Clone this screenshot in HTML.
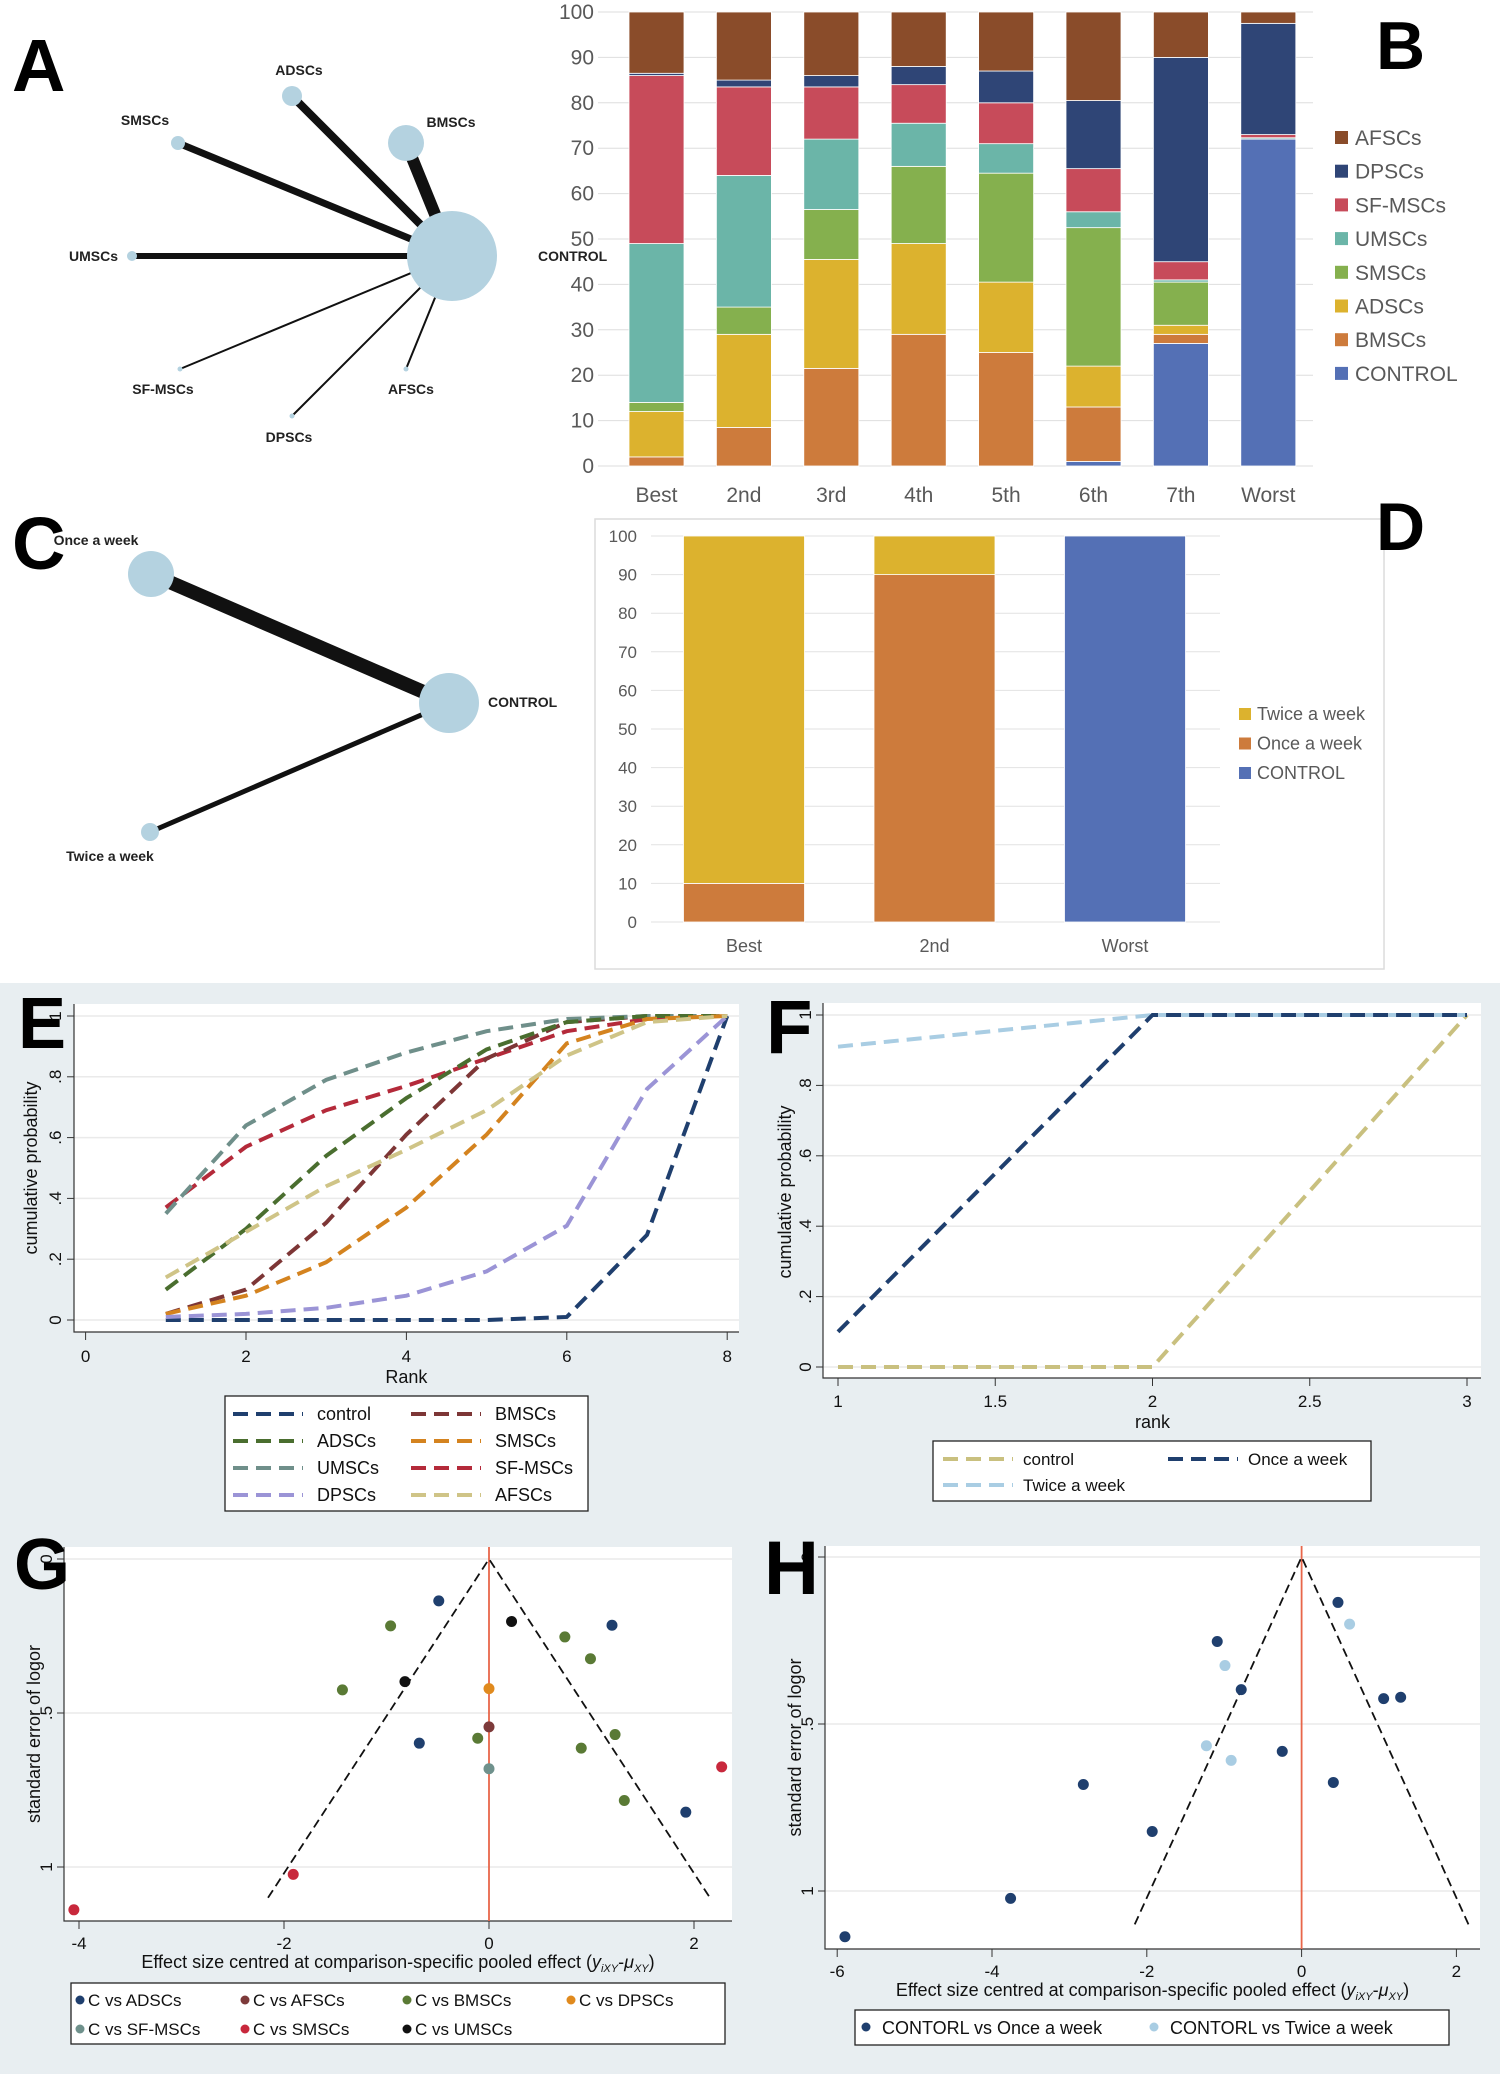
<!DOCTYPE html>
<html><head><meta charset="utf-8"><style>
html,body{margin:0;padding:0;background:#fff;}
svg{display:block;font-family:"Liberation Sans",Arial,sans-serif;}
.net{font-family:"Liberation Sans Narrow","Liberation Sans",sans-serif;font-weight:bold;font-size:14px;fill:#222;}
.big{font-family:"Liberation Sans",sans-serif;font-weight:bold;fill:#000;}
</style></head><body>
<svg id="fig" width="1500" height="2074" viewBox="0 0 1500 2074" xmlns="http://www.w3.org/2000/svg">
<rect x="0" y="0" width="1500" height="2074" fill="#fff"/>
<rect x="0" y="983" width="1500" height="1091" fill="#e8eef1"/>
<g id="gA"></g>
<g id="gB"></g>
<g id="gC"></g>
<g id="gD"></g>
<g id="gE"></g>
<g id="gF"></g>
<g id="gG"></g>
<g id="gH"></g>
<text class="big" x="12" y="91" font-size="74">A</text>
<text class="big" x="1376" y="69" font-size="68">B</text>
<text class="big" x="12" y="569" font-size="74">C</text>
<text class="big" x="1376" y="550" font-size="68">D</text>
<text class="big" x="18" y="1048" font-size="72">E</text>
<text class="big" x="766" y="1053" font-size="76">F</text>
<text class="big" x="14" y="1589" font-size="72">G</text>
<text class="big" x="764" y="1594" font-size="76">H</text>
</svg>
<script>
const NS='http://www.w3.org/2000/svg';
function mk(tag,attrs,parent,txt){const e=document.createElementNS(NS,tag);for(const k in attrs)e.setAttribute(k,attrs[k]);if(txt!==undefined)e.textContent=txt;parent.appendChild(e);return e;}

/* ---------- Panel A network ---------- */
const aNodes=['CONTROL','ADSCs','BMSCs','SMSCs','UMSCs','SF-MSCs','DPSCs','AFSCs'];
const aNodeSize=[45,10,18,7,5,2.5,2.5,2.5];
const aEdgeWidth=[0,8,12,7,6,2,2,2];
const aPos=[[452,256],[292,96],[406,143],[178,143],[132,256],[180,369],[292,416],[406,369]];
const aLab=[[538,261,'start'],[299,75,'middle'],[451,127,'middle'],[145,125,'middle'],[118,261,'end'],[163,394,'middle'],[289,442,'middle'],[411,394,'middle']];
const gA=document.getElementById('gA');
for(let i=1;i<aNodes.length;i++){
  const l=mk('line',{x1:aPos[i][0],y1:aPos[i][1],x2:aPos[0][0],y2:aPos[0][1],stroke:'#111','stroke-width':aEdgeWidth[i]},gA);
  
  
}
for(let i=0;i<aNodes.length;i++){
  const c=mk('circle',{cx:aPos[i][0],cy:aPos[i][1],r:aNodeSize[i],fill:'#b4d2e0'},gA);
  
  
  const t=mk('text',{x:aLab[i][0],y:aLab[i][1],'text-anchor':aLab[i][2],class:'net'},gA,aNodes[i]);
  
  
}

/* ---------- Panel C network ---------- */
const cNodes=['CONTROL','Once a week','Twice a week'];
const cNodeSize=[30,23,9];
const cEdgeWidth=[0,14,5];
const cPos=[[449,703],[151,574],[150,832]];
const cLab=[[488,707,'start'],[96,545,'middle'],[110,861,'middle']];
const gC=document.getElementById('gC');
for(let i=1;i<cNodes.length;i++){
  const l=mk('line',{x1:cPos[i][0],y1:cPos[i][1],x2:cPos[0][0],y2:cPos[0][1],stroke:'#111','stroke-width':cEdgeWidth[i]},gC);
  
  
}
for(let i=0;i<cNodes.length;i++){
  const c=mk('circle',{cx:cPos[i][0],cy:cPos[i][1],r:cNodeSize[i],fill:'#b4d2e0'},gC);
  
  
  const t=mk('text',{x:cLab[i][0],y:cLab[i][1],'text-anchor':cLab[i][2],class:'net','font-size':13},gC,cNodes[i]);
  
  
}

/* ---------- Panel B stacked bars ---------- */
const bCats=['Best','2nd','3rd','4th','5th','6th','7th','Worst'];
const bSeries=['CONTROL','BMSCs','ADSCs','SMSCs','UMSCs','SF-MSCs','DPSCs','AFSCs'];
const bColors=['#5470b5','#cd7b3c','#dcb22e','#85b04e','#6bb5a8','#c74b5a','#2f4576','#8a4c2a'];
const bControl=[0,0,0,0,0,1,27,72];
const bBMSCs=[2,8.5,21.5,29,25,12,2,0];
const bADSCs=[10,20.5,24,20,15.5,9,2,0];
const bSMSCs=[2,6,11,17,24,30.5,9.5,0];
const bUMSCs=[35,29,15.5,9.5,6.5,3.5,0.5,0.3];
const bSF=[37,19.5,11.5,8.5,9,9.5,4,0.7];
const bDPSCs=[0.5,1.5,2.5,4,7,15,45,24.5];
const bAFSCs=[13.5,15,14,12,13,19.5,10,2.5];
const bTicks=[0,10,20,30,40,50,60,70,80,90,100];
const bVals=[bControl,bBMSCs,bADSCs,bSMSCs,bUMSCs,bSF,bDPSCs,bAFSCs];
const gB=document.getElementById('gB');
const yB=v=>466-v*4.54, xB=i=>656.5+i*87.4;
bTicks.forEach(t=>{
  const g=mk('line',{x1:598,x2:1313,y1:yB(t),y2:yB(t),stroke:'#dedede','stroke-width':1},gB);
  
  
  const tx=mk('text',{x:594,y:yB(t)+7,'text-anchor':'end','font-size':21,fill:'#595959'},gB,t);
  
  
});
bCats.forEach((c,i)=>{
  let acc=0;
  bVals.forEach((s,k)=>{
    const v=s[i]; if(v<=0){return;}
    const r=mk('rect',{x:xB(i)-27.5,y:yB(acc+v),width:55,height:v*4.54,fill:bColors[k],stroke:'#fff','stroke-width':0.8},gB);
    
    
    acc+=v;
  });
  const t=mk('text',{x:xB(i),y:502,'text-anchor':'middle','font-size':21,fill:'#595959'},gB,c);
  
  
});
for(let k=7;k>=0;k--){
  const yy=138+(7-k)*33.7;
  const s=mk('rect',{x:1335,y:yy-7,width:13,height:13,fill:bColors[k]},gB);
  
  
  const t=mk('text',{x:1355,y:yy+7,'font-size':21,fill:'#595959'},gB,bSeries[k]);
  
  
}

/* ---------- Panel D stacked bars ---------- */
const dCats=['Best','2nd','Worst'];
const dSeries=['CONTROL','Once a week','Twice a week'];
const dColors=['#5470b5','#cd7b3c','#dcb22e'];
const dControl=[0,0,100];
const dOnce=[10,90,0];
const dTwice=[90,10,0];
const dTicks=[0,10,20,30,40,50,60,70,80,90,100];
const dVals=[dControl,dOnce,dTwice];
const gD=document.getElementById('gD');
const yD=v=>922-v*3.86, xD=i=>744+i*190.5;
const box=mk('rect',{x:595,y:519,width:789,height:450,fill:'none',stroke:'#dcdcdc','stroke-width':1.5},gD);


dTicks.forEach(t=>{
  const g=mk('line',{x1:651,x2:1220,y1:yD(t),y2:yD(t),stroke:'#e2e2e2','stroke-width':1},gD);
  
  
  const tx=mk('text',{x:637,y:yD(t)+6,'text-anchor':'end','font-size':17,fill:'#595959'},gD,t);
  
  
});
dCats.forEach((c,i)=>{
  let acc=0;
  dVals.forEach((s,k)=>{
    const v=s[i]; if(v<=0){return;}
    const r=mk('rect',{x:xD(i)-60.5,y:yD(acc+v),width:121,height:v*3.86,fill:dColors[k],stroke:'#fff','stroke-width':0.8},gD);
    
    
    acc+=v;
  });
  const t=mk('text',{x:xD(i),y:952,'text-anchor':'middle','font-size':18,fill:'#595959'},gD,c);
  
  
});
for(let k=2;k>=0;k--){
  const yy=714+(2-k)*29.5;
  const s=mk('rect',{x:1239,y:yy-6,width:12,height:12,fill:dColors[k]},gD);
  
  
  const t=mk('text',{x:1257,y:yy+6,'font-size':18,fill:'#595959'},gD,dSeries[k]);
  
  
}

/* ---------- Panel E cumulative ranking ---------- */
const eRanks=[1,2,3,4,5,6,7,8];
const eNames=['control','ADSCs','UMSCs','DPSCs','BMSCs','SMSCs','SF-MSCs','AFSCs'];
const eColors=['#1f3f6e','#4a6e2f','#6f8f8a','#9b94d6','#7d3636','#d4831f','#b42a3a','#cfc487'];
const eControl=[0,0,0,0,0,0.01,0.28,1];
const eADSCs=[0.10,0.30,0.54,0.73,0.89,0.98,1,1];
const eUMSCs=[0.35,0.64,0.79,0.88,0.95,0.99,1,1];
const eDPSCs=[0.01,0.02,0.04,0.08,0.16,0.31,0.76,1];
const eBMSCs=[0.02,0.10,0.32,0.61,0.86,0.98,1,1];
const eSMSCs=[0.02,0.08,0.19,0.37,0.61,0.91,0.99,1];
const eSF=[0.37,0.57,0.69,0.77,0.86,0.95,0.99,1];
const eAFSCs=[0.14,0.29,0.44,0.56,0.69,0.87,0.98,1];
const eXTicks=[0,2,4,6,8];
const eYTicks=[0,0.2,0.4,0.6,0.8,1];
const eYLabels=['0','.2','.4','.6','.8','1'];
const eSeries=[eControl,eADSCs,eUMSCs,eDPSCs,eBMSCs,eSMSCs,eSF,eAFSCs];
const gE=document.getElementById('gE');
const xE=r=>85.6+r*80.2, yE=p=>1320-p*304;
function stataFrame(g,x0,y0,x1,y1){
  const pr=mk('rect',{x:x0,y:y0,width:x1-x0,height:y1-y0,fill:'#fff'},g);
  
  
}
stataFrame(gE,74,1004,739,1332);
eYTicks.forEach((t,i)=>{
  const g=mk('line',{x1:74,x2:739,y1:yE(t),y2:yE(t),stroke:'#eaeaea','stroke-width':1.5},gE);
  
  
  const tk=mk('line',{x1:67,x2:74,y1:yE(t),y2:yE(t),stroke:'#333'},gE);
  
  
  const tx=mk('text',{x:0,y:0,'text-anchor':'middle','font-size':17,fill:'#111',transform:`translate(61,${yE(t)}) rotate(-90)`},gE,eYLabels[i]);
  
  
});
eXTicks.forEach(t=>{
  const tk=mk('line',{x1:xE(t),x2:xE(t),y1:1332,y2:1340,stroke:'#333'},gE);
  
  
  const tx=mk('text',{x:xE(t),y:1362,'text-anchor':'middle','font-size':17,fill:'#111'},gE,t);
  
  
});
let ax=mk('path',{d:'M74 1004 V1332 H739',fill:'none',stroke:'#333','stroke-width':1.2},gE);


let tt=mk('text',{x:xE(4),y:1383,'text-anchor':'middle','font-size':18,fill:'#111'},gE,'Rank');


tt=mk('text',{x:0,y:0,'text-anchor':'middle','font-size':18,fill:'#111',transform:'translate(37,1168) rotate(-90)'},gE,'cumulative probability');


[6,4,2,1,0,5,3,7].forEach(k=>{
  const pts=eRanks.map((r,i)=>xE(r)+','+yE(eSeries[k][i])).join(' ');
  const p=mk('polyline',{points:pts,fill:'none',stroke:eColors[k],'stroke-width':4,'stroke-dasharray':'15 8'},gE);
  
  
});
let lb=mk('rect',{x:225,y:1396,width:363,height:115,fill:'#fff',stroke:'#222','stroke-width':1.3},gE);


const eLegOrder=[0,4,1,5,2,6,3,7];
eLegOrder.forEach((k,j)=>{
  const col=j%2,row=Math.floor(j/2);
  const lx=col?411:233, yy=1414+row*27;
  const l=mk('line',{x1:lx,x2:lx+70,y1:yy,y2:yy,stroke:eColors[k],'stroke-width':4,'stroke-dasharray':'15 8'},gE);
  
  
  const t=mk('text',{x:lx+84,y:yy+6,'font-size':18,fill:'#111'},gE,eNames[k]);
  
  
});

/* ---------- Panel F ---------- */
const fRanks=[1,2,3];
const fNames=['control','Once a week','Twice a week'];
const fColors=['#c9c07f','#1f3f6e','#a9cde3'];
const fControl=[0,0,1];
const fOnce=[0.1,1,1];
const fTwice=[0.91,1,1];
const fXTicks=[1,1.5,2,2.5,3];
const fYTicks=[0,0.2,0.4,0.6,0.8,1];
const fYLabels=['0','.2','.4','.6','.8','1'];
const fSeries=[fControl,fOnce,fTwice];
const gF=document.getElementById('gF');
const xF=r=>838+(r-1)*314.5, yF=p=>1367-p*352;
stataFrame(gF,823,1003,1481,1378);
fYTicks.forEach((t,i)=>{
  const g=mk('line',{x1:823,x2:1481,y1:yF(t),y2:yF(t),stroke:'#eaeaea','stroke-width':1.5},gF);
  
  
  const tk=mk('line',{x1:816,x2:823,y1:yF(t),y2:yF(t),stroke:'#333'},gF);
  
  
  const tx=mk('text',{x:0,y:0,'text-anchor':'middle','font-size':17,fill:'#111',transform:`translate(811,${yF(t)}) rotate(-90)`},gF,fYLabels[i]);
  
  
});
fXTicks.forEach(t=>{
  const tk=mk('line',{x1:xF(t),x2:xF(t),y1:1378,y2:1386,stroke:'#333'},gF);
  
  
  const tx=mk('text',{x:xF(t),y:1407,'text-anchor':'middle','font-size':17,fill:'#111'},gF,t);
  
  
});
ax=mk('path',{d:'M823 1003 V1378 H1481',fill:'none',stroke:'#333','stroke-width':1.2},gF);


tt=mk('text',{x:xF(2),y:1428,'text-anchor':'middle','font-size':18,fill:'#111'},gF,'rank');


tt=mk('text',{x:0,y:0,'text-anchor':'middle','font-size':18,fill:'#111',transform:'translate(791,1192) rotate(-90)'},gF,'cumulative probability');


[0,2,1].forEach(k=>{
  const pts=fRanks.map((r,i)=>xF(r)+','+yF(fSeries[k][i])).join(' ');
  const p=mk('polyline',{points:pts,fill:'none',stroke:fColors[k],'stroke-width':4,'stroke-dasharray':'15 8'},gF);
  
  
});
lb=mk('rect',{x:933,y:1441,width:438,height:60,fill:'#fff',stroke:'#222','stroke-width':1.3},gF);


[[0,943,1459],[1,1168,1459],[2,943,1485]].forEach(([k,lx,yy])=>{
  const l=mk('line',{x1:lx,x2:lx+70,y1:yy,y2:yy,stroke:fColors[k],'stroke-width':4,'stroke-dasharray':'15 8'},gF);
  
  
  const t=mk('text',{x:lx+80,y:yy+6,'font-size':17,fill:'#111'},gF,fNames[k]);
  
  
});

/* ---------- Funnel helper ---------- */
function funnel(g,xs,ys,x0,y0,x1,y1,xticks,xlabels,yticks,ylabels,seMax){
  stataFrame(g,x0,y0,x1,y1);
  yticks.forEach((t,i)=>{
    const gl=mk('line',{x1:x0,x2:x1,y1:ys(t),y2:ys(t),stroke:'#eaeaea','stroke-width':1.5},g);
    
    
    const tk=mk('line',{x1:x0-7,x2:x0,y1:ys(t),y2:ys(t),stroke:'#333'},g);
    
    
    const tx=mk('text',{x:0,y:0,'text-anchor':'middle','font-size':17,fill:'#111',transform:`translate(${x0-12},${ys(t)}) rotate(-90)`},g,ylabels[i]);
    
    
  });
  xticks.forEach((t,i)=>{
    const tk=mk('line',{x1:xs(t),x2:xs(t),y1:y1,y2:y1+8,stroke:'#333'},g);
    
    
    const tx=mk('text',{x:xs(t),y:y1+28,'text-anchor':'middle','font-size':17,fill:'#111'},g,xlabels[i]);
    
    
  });
  const a=mk('path',{d:`M${x0} ${y0} V${y1} H${x1}`,fill:'none',stroke:'#333','stroke-width':1.2},g);
  
  
  const rl=mk('line',{x1:xs(0),x2:xs(0),y1:y0,y2:y1,stroke:'#e8664a','stroke-width':1.8},g);
  
  
  const fn=mk('polyline',{points:`${xs(-1.96*seMax)},${ys(seMax)} ${xs(0)},${ys(0)} ${xs(1.96*seMax)},${ys(seMax)}`,fill:'none',stroke:'#111','stroke-width':1.8,'stroke-dasharray':'9 5'},g);
  
  
  const xt=mk('text',{x:(x0+x1)/2,y:y1+47,'text-anchor':'middle','font-size':18,fill:'#111'},g);
  
  
  xt.appendChild(document.createTextNode('Effect size centred at comparison-specific pooled effect ('));
  const ts=mk('tspan',{'font-style':'italic'},xt,'y');
  mk('tspan',{'font-size':11,'font-style':'italic',dy:4},xt,'iXY');
  mk('tspan',{dy:-4},xt,'-');
  mk('tspan',{'font-style':'italic'},xt,'μ');
  mk('tspan',{'font-size':11,'font-style':'italic',dy:4},xt,'XY');
  mk('tspan',{dy:-4},xt,')');
  const yt=mk('text',{x:0,y:0,'text-anchor':'middle','font-size':18,fill:'#111',transform:`translate(${x0-24},${(y0+y1)/2}) rotate(-90)`},g,'standard error of logor');
  
  
}

/* ---------- Panel G ---------- */
const gNames=['C vs ADSCs','C vs AFSCs','C vs BMSCs','C vs DPSCs','C vs SF-MSCs','C vs SMSCs','C vs UMSCs'];
const gColors=['#1f3f6e','#7d3a3a','#5a7a35','#e08a1e','#6f918c','#c8283c','#111111'];
const gEffect=[[-0.49,1.20,-0.68,1.92],[0],[-0.96,0.74,0.99,-1.43,-0.11,1.23,0.90,1.32],[0],[0],[2.27,-1.91,-4.05],[0.22,-0.82]];
const gSE=[[0.136,0.215,0.598,0.822],[0.545],[0.217,0.253,0.324,0.425,0.582,0.570,0.614,0.784],[0.421],[0.681],[0.675,1.024,1.139],[0.203,0.398]];
const gXTicks=[-4,-2,0,2];
const gYTicks=[0,0.5,1];
const gYLabels=['0','.5','1'];
const gG=document.getElementById('gG');
const xG=d=>489+d*102.5, yG=s=>1559+s*308;
funnel(gG,xG,yG,64,1547,732,1921,gXTicks,gXTicks,gYTicks,gYLabels,1.1);
gNames.forEach((n,k)=>{
  gEffect[k].forEach((e,i)=>{
    const c=mk('circle',{cx:xG(e),cy:yG(gSE[k][i]),r:5.5,fill:gColors[k]},gG);
    
    
  });
});
lb=mk('rect',{x:71,y:1983,width:654,height:61,fill:'#fff',stroke:'#222','stroke-width':1.3},gG);


const gLegX=[80,245,407,571];
gNames.forEach((n,k)=>{
  const col=k%4,row=Math.floor(k/4);
  const yy=2000+row*29;
  const c=mk('circle',{cx:gLegX[col],cy:yy,r:4.5,fill:gColors[k]},gG);
  
  
  const t=mk('text',{x:gLegX[col]+8,y:yy+6,'font-size':17,fill:'#111'},gG,n);
  
  
});

/* ---------- Panel H ---------- */
const hNames=['CONTORL vs Once a week','CONTORL vs Twice a week'];
const hColors=['#1f3f6e','#a9cde3'];
const hEffect=[[0.47,-1.09,-0.78,1.06,1.28,-0.25,0.41,-2.82,-1.93,-3.76,-5.90],[0.62,-0.99,-1.23,-0.91]];
const hSE=[[0.136,0.253,0.397,0.424,0.420,0.582,0.675,0.681,0.822,1.022,1.137],[0.201,0.325,0.565,0.609]];
const hXTicks=[-6,-4,-2,0,2];
const hYTicks=[0,0.5,1];
const hYLabels=['0','.5','1'];
const gH=document.getElementById('gH');
const xH=d=>1301.6+d*77.4, yH=s=>1557+s*334;
funnel(gH,xH,yH,825,1546,1480,1949,hXTicks,hXTicks,hYTicks,hYLabels,1.1);
hNames.forEach((n,k)=>{
  hEffect[k].forEach((e,i)=>{
    const c=mk('circle',{cx:xH(e),cy:yH(hSE[k][i]),r:5.5,fill:hColors[k]},gH);
    
    
  });
});
lb=mk('rect',{x:855,y:2010,width:594,height:35,fill:'#fff',stroke:'#222','stroke-width':1.3},gH);


[866,1154].forEach((lx,k)=>{
  const c=mk('circle',{cx:lx,cy:2027,r:4.5,fill:hColors[k]},gH);
  
  
  const t=mk('text',{x:lx+16,y:2034,'font-size':18,fill:'#111'},gH,hNames[k]);
  
  
});
</script>
</body></html>
